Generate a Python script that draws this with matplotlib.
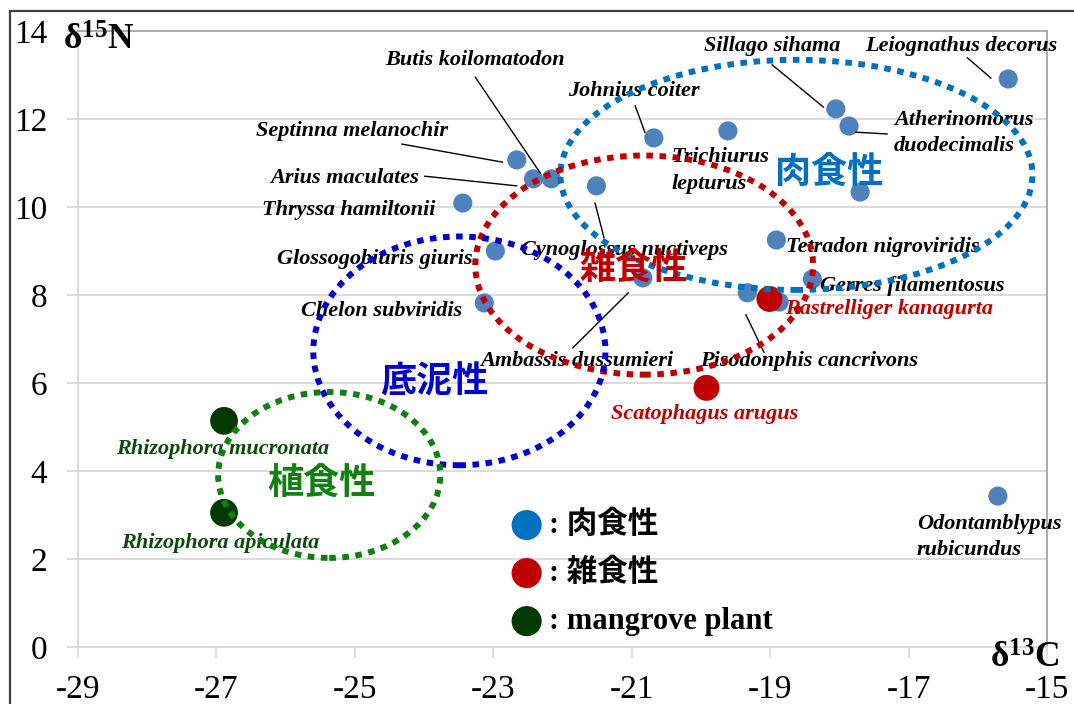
import matplotlib
matplotlib.use("Agg")
import matplotlib.pyplot as plt
from matplotlib.patches import Ellipse, Rectangle

plt.rcParams['mathtext.fontset'] = 'custom'
plt.rcParams['mathtext.rm'] = 'Liberation Serif'
plt.rcParams['mathtext.bf'] = 'Liberation Serif:bold'

# ---- data -------------------------------------------------------------
fish_names = ["Leiognathus decorus", "Sillago sihama", "Atherinomorus duodecimalis", "",
              "Trichiurus lepturus", "Johnius coiter", "Septinna melanochir", "Arius maculates",
              "Butis koilomatodon", "Thryssa hamiltonii", "Cynoglossus nuctiveps",
              "Glossogobiuris giuris", "Chelon subviridis", "Ambassis dussumieri",
              "Tetradon nigroviridis", "Gerres filamentosus", "Pisodonphis cancrivons", "",
              "Odontamblypus rubicundus"]
fish_d13c = [-15.56, -18.05, -17.86, -17.70, -19.61, -20.68, -22.66, -22.42, -22.16, -23.44,
             -21.51, -22.97, -23.13, -20.84, -18.91, -18.39, -19.33, -18.87, -15.71]
fish_d15n = [12.91, 12.23, 11.84, 10.34, 11.73, 11.57, 11.07, 10.64, 10.64, 10.09,
             10.48, 9.00, 7.82, 8.39, 9.25, 8.36, 8.05, 7.84, 3.43]

omni_names = ["Rastrelliger kanagurta", "Scatophagus arugus"]
omni_d13c = [-19.01, -19.92]
omni_d15n = [7.91, 5.89]

plant_names = ["Rhizophora mucronata", "Rhizophora apiculata"]
plant_d13c = [-26.89, -26.89]
plant_d15n = [5.14, 3.05]

x_ticks = [-29, -27, -25, -23, -21, -19, -17, -15]
y_ticks = [0, 2, 4, 6, 8, 10, 12, 14]

# feeding-group regions: (label, centre x, centre y, width, height)
group_labels = ["肉食性", "雑食性", "底泥性", "植食性"]
group_cx = [-18.62, -20.82, -23.49, -25.37]
group_cy = [10.73, 8.68, 6.73, 3.91]
group_w = [6.82, 4.88, 4.22, 3.21]
group_h = [5.23, 4.98, 5.20, 3.77]

legend_labels = [": 肉食性", ": 雑食性", ": mangrove plant"]

# ---- styling ----------------------------------------------------------
C_FISH = "#4F81BD"
C_OMNI = "#C00000"
C_PLANT = "#033A03"
group_colors = ["#0070C0", "#C00000", "#0000D0", "#108010"]
legend_colors = ["#0070C0", "#C00000", "#033A03"]
GRID = "#D9D9D9"
SERIF = "Liberation Serif"
CJK = ["Noto Sans CJK JP", "DejaVu Sans"]

W, H = 1074, 704
fig = plt.figure(figsize=(W / 100, H / 100), dpi=100)
L, R, B, T = 78, 1047, 647, 31
ax = fig.add_axes([L / W, (H - B) / H, (R - L) / W, (B - T) / H])
ax.set_xlim(-29, -15)
ax.set_ylim(0, 14)

ax.set_xticks(x_ticks)
ax.set_yticks(y_ticks)
ax.set_xticklabels([str(v) for v in x_ticks], fontfamily=SERIF, fontsize=24)
ax.set_yticklabels([str(v) for v in y_ticks], fontfamily=SERIF, fontsize=24)
ax.tick_params(axis='both', direction='out', length=8, width=1.2, color=GRID)
ax.tick_params(axis='y', pad=14)
ax.tick_params(axis='x', pad=11.5)
ax.yaxis.grid(True, color=GRID, linewidth=1.3, zorder=0)
ax.set_axisbelow(True)
for side in ("left", "bottom"):
    ax.spines[side].set_color(GRID)
    ax.spines[side].set_linewidth(1.3)
for side in ("right", "top"):
    ax.spines[side].set_color("#A6A6A6")
    ax.spines[side].set_linewidth(1.3)

# outer frame of the figure
fig.add_artist(Rectangle((10 / W, -0.2), 1.5, (H - 11) / H + 0.2, transform=fig.transFigure,
                         fill=False, edgecolor="#404040", linewidth=1.6, zorder=10))

# ---- points -----------------------------------------------------------
ax.scatter(fish_d13c, fish_d15n, s=190, color=C_FISH, edgecolors='none', zorder=3)
ax.scatter(omni_d13c, omni_d15n, s=350, color=C_OMNI, edgecolors='none', zorder=3)
ax.scatter(plant_d13c, plant_d15n, s=400, color=C_PLANT, edgecolors='none', zorder=3)

# ---- species labels ---------------------------------------------------
lab_kw = dict(fontfamily=SERIF, fontweight='bold', fontstyle='italic', fontsize=16,
              va='center', ha='left', zorder=4)
labels = [
    ("Butis koilomatodon", -24.56, 13.34, "black"),
    ("Johnius coiter", -21.92, 12.64, "black"),
    ("Sillago sihama", -19.95, 13.66, "black"),
    ("Leiognathus decorus", -17.63, 13.66, "black"),
    ("Septinna melanochir", -26.43, 11.73, "black"),
    ("Arius maculates", -26.23, 10.66, "black"),
    ("Thryssa hamiltonii", -26.34, 9.93, "black"),
    ("Atherinomorus", -17.21, 11.98, "black"),
    ("duodecimalis", -17.21, 11.39, "black"),
    ("Trichiurus", -20.43, 11.14, "black"),
    ("lepturus", -20.43, 10.52, "black"),
    ("Cynoglossus nuctiveps", -22.60, 9.02, "black"),
    ("Glossogobiuris giuris", -26.12, 8.82, "black"),
    ("Chelon subviridis", -25.78, 7.64, "black"),
    ("Tetradon nigroviridis", -18.77, 9.09, "black"),
    ("Gerres filamentosus", -18.28, 8.20, "black"),
    ("Rastrelliger kanagurta", -18.78, 7.68, C_OMNI),
    ("Ambassis dussumieri", -23.19, 6.50, "black"),
    ("Pisodonphis cancrivons", -20.01, 6.50, "black"),
    ("Scatophagus arugus", -21.30, 5.30, C_OMNI),
    ("Rhizophora mucronata", -28.45, 4.50, "#0B4A0B"),
    ("Rhizophora apiculata", -28.38, 2.36, "#0B4A0B"),
    ("Odontamblypus", -16.88, 2.80, "black"),
    ("rubicundus", -16.88, 2.20, "black"),
]
for txt, x, y, c in labels:
    ax.text(x, y, txt, color=c, **lab_kw)

# leader lines from labels to their points
leaders = [
    ((-23.26, 12.95), (-22.32, 10.77)),
    ((-20.95, 12.30), (-20.81, 11.70)),
    ((-24.32, 11.43), (-22.87, 11.02)),
    ((-23.99, 10.70), (-22.66, 10.48)),
    ((-18.97, 13.23), (-18.23, 12.27)),
    ((-16.15, 13.39), (-15.81, 12.93)),
    ((-17.76, 11.70), (-17.31, 11.66)),
    ((-21.53, 10.09), (-21.40, 9.30)),
    ((-21.85, 6.80), (-21.05, 8.05)),
    ((-19.35, 7.55), (-19.09, 6.70)),
]
for (x0, y0), (x1, y1) in leaders:
    ax.plot([x0, x1], [y0, y1], color="black", linewidth=1.0, zorder=4)

# ---- feeding-group ellipses ------------------------------------------
for cx, cy, w, h, c in zip(group_cx, group_cy, group_w, group_h, group_colors):
    ax.add_patch(Ellipse((cx, cy), w, h, fill=False, edgecolor=c, linewidth=4.3,
                         linestyle=(0, (1.1, 1.1)), zorder=5))

group_text_pos = [(-18.93, 10.80), (-21.75, 8.61), (-24.64, 6.02), (-26.27, 3.73)]
for (x, y), txt, c in zip(group_text_pos, group_labels, group_colors):
    ax.text(x, y, txt, color=c, fontfamily=CJK, fontweight='bold', fontsize=26,
            va='center', ha='left', zorder=6)

# ---- legend -----------------------------------------------------------
leg_y = [0.198, 0.120, 0.042]
for y, c, txt in zip(leg_y, legend_colors, legend_labels):
    ax.scatter([0.463], [y], s=470, color=c, edgecolors='none', transform=ax.transAxes,
               zorder=6, clip_on=False)
    ax.text(0.486, y, txt, transform=ax.transAxes, fontfamily=[SERIF] + CJK,
            fontweight='bold', fontsize=22, va='center', ha='left', zorder=6)

# ---- axis titles ------------------------------------------------------
fig.text(63 / W, (H - 50) / H, r'$\mathbf{δ^{15}N}$', fontsize=25.5, ha='left', va='baseline')
fig.text(990 / W, (H - 668) / H, r'$\mathbf{δ^{13}C}$', fontsize=25.5, ha='left', va='baseline')

fig.savefig("out.png", dpi=100)
